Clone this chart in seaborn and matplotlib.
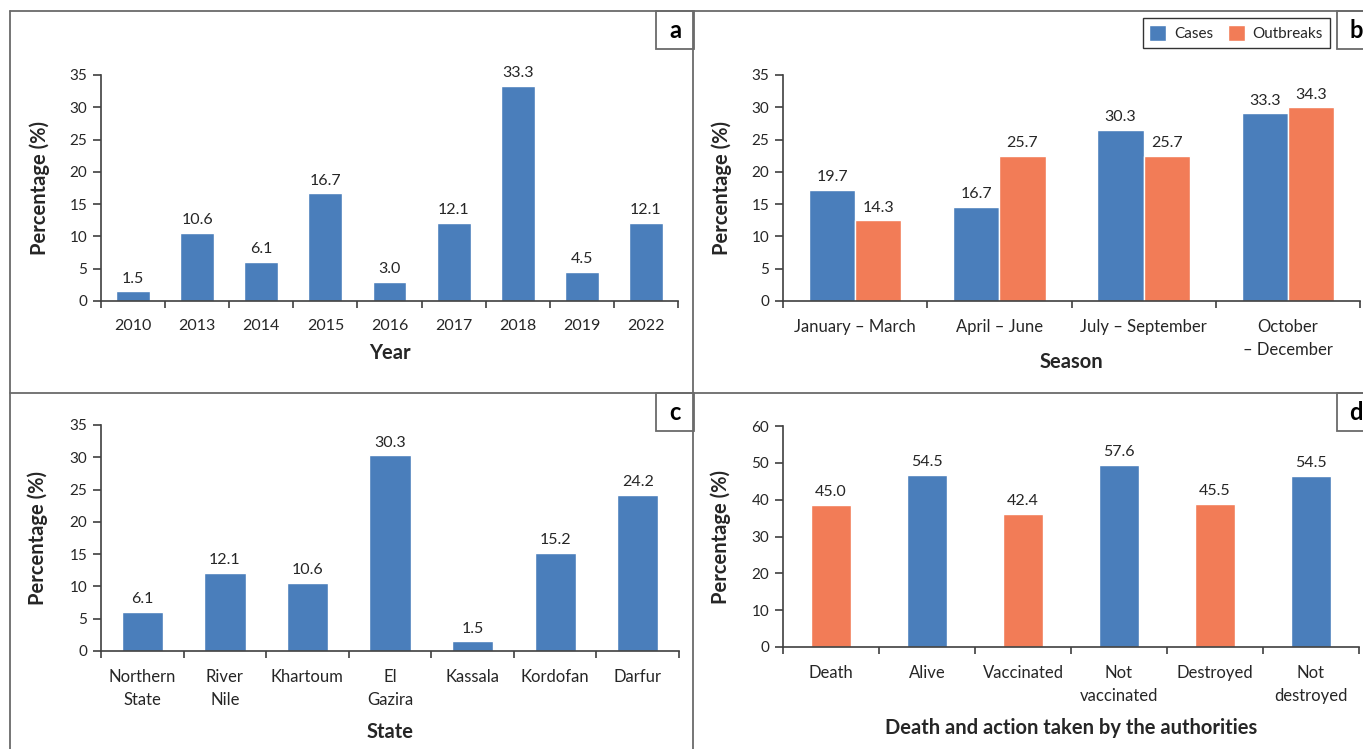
import matplotlib
matplotlib.use("Agg")
import matplotlib.pyplot as plt
from matplotlib.patches import Rectangle
import pandas as pd
import seaborn as sns

# (a) year
years = ["2010", "2013", "2014", "2015", "2016", "2017", "2018", "2019", "2022"]
year_pct = [1.5, 10.6, 6.1, 16.7, 3.0, 12.1, 33.3, 4.5, 12.1]

# (b) season - bar heights as drawn, labels as printed
seasons = ["January – March", "April – June", "July – September", "October\n– December"]
cases_bar = [17.2, 14.6, 26.5, 29.1]
outbreaks_bar = [12.5, 22.5, 22.5, 30.0]
cases_labels = ["19.7", "16.7", "30.3", "33.3"]
outbreaks_labels = ["14.3", "25.7", "25.7", "34.3"]

# (c) state
states = ["Northern\nState", "River\nNile", "Khartoum", "El\nGazira", "Kassala", "Kordofan", "Darfur"]
state_pct = [6.1, 12.1, 10.6, 30.3, 1.5, 15.2, 24.2]

# (d) death and action - bar heights as drawn, labels as printed
actions = ["Death", "Alive", "Vaccinated", "Not\nvaccinated", "Destroyed", "Not\ndestroyed"]
action_bar = [38.6, 46.7, 36.2, 49.4, 38.9, 46.5]
action_labels = ["45.0", "54.5", "42.4", "57.6", "45.5", "54.5"]

BLUE = "#4a7ebb"
ORANGE = "#f27c57"
DARK = "#262626"
AXC = "#404040"
W, H = 1363, 749

sns.set_style("ticks")
plt.rcParams["font.family"] = ["Lato", "DejaVu Sans"]
plt.rcParams["font.size"] = 11
plt.rcParams["text.color"] = DARK
plt.rcParams["axes.labelcolor"] = DARK
plt.rcParams["xtick.color"] = AXC
plt.rcParams["ytick.color"] = AXC
plt.rcParams["xtick.labelcolor"] = DARK
plt.rcParams["ytick.labelcolor"] = DARK

fig = plt.figure(figsize=(W / 100, H / 100), dpi=100)


def px_axes(x0, y0, x1, y1):
    return fig.add_axes([x0 / W, 1 - y1 / H, (x1 - x0) / W, (y1 - y0) / H])


def style_axes(ax, n, ymax, ystep, xlabel, xlab_y, ylab_x, xsize=12):
    ax.set_xlim(-0.5, n - 0.5)
    ax.set_ylim(0, ymax)
    ax.set_yticks(range(0, ymax + 1, ystep))
    ax.set_xticks([i - 0.5 for i in range(n + 1)], minor=True)
    ax.tick_params(axis="x", which="major", length=0, pad=13, labelsize=xsize)
    ax.tick_params(axis="x", which="minor", length=5, width=1.2, color=AXC)
    ax.tick_params(axis="y", length=6, width=1.2, pad=4, labelsize=11)
    for t in ax.get_xticklabels():
        t.set_linespacing(1.5)
    for s in ["left", "bottom"]:
        ax.spines[s].set_color(AXC)
        ax.spines[s].set_linewidth(1.2)
    sns.despine(ax=ax)
    ax.set_xlabel(xlabel, fontsize=14.5, fontweight="bold")
    ax.set_ylabel("Percentage (%)", fontsize=14.5, fontweight="bold")
    ax.xaxis.set_label_coords(0.5, xlab_y)
    ax.xaxis.label.set_verticalalignment("center")
    ax.yaxis.set_label_coords(ylab_x, 0.5)
    ax.yaxis.label.set_verticalalignment("center")


# panel a
ax_a = px_axes(101, 75, 678, 301)
sns.barplot(x=years, y=year_pct, color=BLUE, width=0.53, saturation=1, ax=ax_a)
ax_a.bar_label(ax_a.containers[0], labels=[f"{v:.1f}" for v in year_pct], padding=4, fontsize=11.5)
style_axes(ax_a, len(years), 35, 5, "Year", -0.23, -0.107, xsize=11.5)

# panel b
df_b = pd.DataFrame({
    "Season": seasons * 2,
    "Pct": cases_bar + outbreaks_bar,
    "Type": ["Cases"] * 4 + ["Outbreaks"] * 4,
})
ax_b = px_axes(783, 75, 1360, 301)
sns.barplot(data=df_b, x="Season", y="Pct", hue="Type", palette=[BLUE, ORANGE],
            width=0.64, gap=0, saturation=1, ax=ax_b)
ax_b.bar_label(ax_b.containers[0], labels=cases_labels, padding=4, fontsize=11.5)
ax_b.bar_label(ax_b.containers[1], labels=outbreaks_labels, padding=4, fontsize=11.5)
style_axes(ax_b, len(seasons), 35, 5, "Season", -0.27, -0.107)
sns.move_legend(ax_b, loc="upper right", bbox_to_anchor=(1330 / W, 1 - 18 / H),
                bbox_transform=fig.transFigure, ncol=2, title=None, frameon=True,
                fancybox=False, edgecolor="black", handlelength=1.1, handleheight=1.2,
                columnspacing=1.0, handletextpad=0.5, fontsize=11, borderpad=0.45,
                borderaxespad=0)
ax_b.get_legend().get_frame().set_linewidth(1.0)

# panel c
ax_c = px_axes(101, 425, 679, 651)
sns.barplot(x=states, y=state_pct, color=BLUE, width=0.5, saturation=1, ax=ax_c)
ax_c.bar_label(ax_c.containers[0], labels=[f"{v:.1f}" for v in state_pct], padding=4, fontsize=11.5)
style_axes(ax_c, len(states), 35, 5, "State", -0.358, -0.109)

# panel d
ax_d = px_axes(783, 426, 1359, 647)
sns.barplot(x=actions, y=action_bar, hue=actions,
            palette=[ORANGE, BLUE, ORANGE, BLUE, ORANGE, BLUE],
            width=0.41, saturation=1, legend=False, ax=ax_d)
for cont, lab in zip(ax_d.containers, action_labels):
    ax_d.bar_label(cont, labels=[lab], padding=4, fontsize=11.5)
style_axes(ax_d, len(actions), 60, 10, "Death and action taken by the authorities", -0.366, -0.109)

# panel frames and letters
ov = fig.add_axes([0, 0, 1, 1])
ov.set_xlim(0, W)
ov.set_ylim(H, 0)
ov.axis("off")
lc = "#6a6a6a"
ov.plot([10, W], [11, 11], color=lc, lw=1.3)
ov.plot([10, W], [393, 393], color=lc, lw=1.3)
ov.plot([10, 10], [11, H], color=lc, lw=1.3)
ov.plot([693, 693], [11, H], color=lc, lw=1.3)
for x0, y0, letter in [(656, 11, "a"), (1337, 11, "b"), (656, 393, "c"), (1337, 393, "d")]:
    ov.add_patch(Rectangle((x0, y0), 38, 38, facecolor="white", edgecolor=lc, lw=1.3))
    ov.text(x0 + 19, y0 + 19, letter, ha="center", va="center",
            fontsize=17, fontweight="bold", color="black")

fig.savefig("out.png", dpi=100)
